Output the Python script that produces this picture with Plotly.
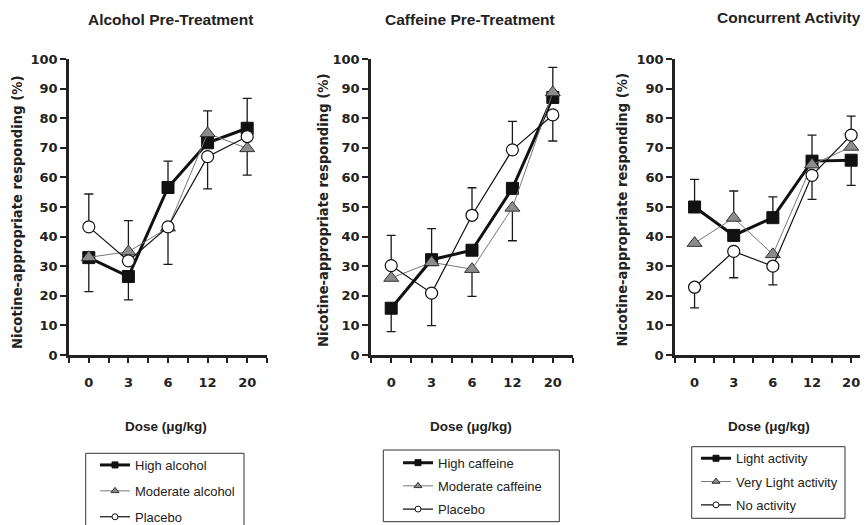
import plotly.graph_objects as go

W, H = 868, 525          # browser window
OFF = 8                  # default body margin of the page
FW, FH = W - OFF, H - OFF  # figure size so that it fits in the window

# ---------------- data ----------------
dose_labels = ["0", "3", "6", "12", "20"]

alc_names = ["High alcohol", "Moderate alcohol", "Placebo"]
alc_high = [32.9, 26.5, 56.6, 71.7, 76.6]
alc_mod = [33.0, 34.9, 43.0, 74.9, 69.8]
alc_plac = [43.3, 31.8, 43.3, 67.0, 73.8]
alc_high_up = [0, 0, 8.9, 0, 10.1]
alc_high_dn = [11.5, 7.9, 0, 0, 0]
alc_mod_up = [0, 10.5, 0, 7.6, 0]
alc_mod_dn = [0, 0, 0, 0, 9.0]
alc_plac_up = [11.1, 0, 0, 0, 0]
alc_plac_dn = [0, 0, 12.7, 10.9, 0]

caf_names = ["High caffeine", "Moderate caffeine", "Placebo"]
caf_high = [15.8, 32.2, 35.4, 56.3, 87.0]
caf_mod = [26.0, 31.3, 29.0, 49.7, 88.7]
caf_plac = [30.2, 20.9, 47.2, 69.3, 81.1]
caf_high_up = [0, 10.5, 0, 0, 0]
caf_high_dn = [7.9, 0, 0, 0, 0]
caf_mod_up = [0, 0, 0, 0, 8.5]
caf_mod_dn = [0, 0, 9.2, 11.1, 0]
caf_plac_up = [10.2, 0, 9.3, 9.6, 0]
caf_plac_dn = [0, 11.0, 0, 0, 8.8]

act_names = ["Light activity", "Very Light activity", "No activity"]
act_light = [50.0, 40.4, 46.4, 65.5, 65.8]
act_vlight = [37.8, 46.3, 34.0, 64.3, 70.3]
act_none = [22.9, 35.0, 30.0, 60.7, 74.3]
act_light_up = [9.3, 0, 7.0, 8.8, 0]
act_light_dn = [0, 0, 0, 0, 8.5]
act_vlight_up = [0, 9.1, 0, 0, 0]
act_vlight_dn = [0, 0, 0, 0, 0]
act_none_up = [0, 0, 0, 0, 6.4]
act_none_dn = [7.0, 8.9, 6.3, 8.1, 0]

panel_titles = ["Alcohol Pre-Treatment", "Caffeine Pre-Treatment", "Concurrent Activity"]
y_title = "Nicotine-appropriate responding (%)"
x_title = "Dose (\u03bcg/kg)"

# ---------------- helpers (window pixel -> paper fraction) ----------------
def fx(px):
    return (px - OFF) / FW

def fy(py):
    return 1 - (py - OFF) / FH

xpos = list(range(1, len(dose_labels) + 1))

STYLES = [
    dict(line=dict(color="#111111", width=3),
         marker=dict(symbol="square", size=12, color="#111111",
                     line=dict(color="#111111", width=1))),
    dict(line=dict(color="#777777", width=1),
         marker=dict(symbol="triangle-up", size=13, color="#8c8c8c",
                     line=dict(color="#333333", width=1))),
    dict(line=dict(color="#111111", width=1.2),
         marker=dict(symbol="circle", size=12, color="white",
                     line=dict(color="#111111", width=1.2))),
]
LEG_MARKER = [6, 7, 6]

fig = go.Figure()

panels = [
    (alc_names, [alc_high, alc_mod, alc_plac],
     [alc_high_up, alc_mod_up, alc_plac_up], [alc_high_dn, alc_mod_dn, alc_plac_dn]),
    (caf_names, [caf_high, caf_mod, caf_plac],
     [caf_high_up, caf_mod_up, caf_plac_up], [caf_high_dn, caf_mod_dn, caf_plac_dn]),
    (act_names, [act_light, act_vlight, act_none],
     [act_light_up, act_vlight_up, act_none_up], [act_light_dn, act_vlight_dn, act_none_dn]),
]

for p, (names, vals, ups, dns) in enumerate(panels):
    xa = "x" if p == 0 else f"x{p+1}"
    ya = "y" if p == 0 else f"y{p+1}"
    leg = "legend" if p == 0 else f"legend{p+1}"
    for i in range(3):
        up = [u if (u or d) else None for u, d in zip(ups[i], dns[i])]
        dn = [d if (u or d) else None for u, d in zip(ups[i], dns[i])]
        st = STYLES[i]
        fig.add_trace(go.Scatter(
            x=xpos, y=vals[i], xaxis=xa, yaxis=ya, mode="lines+markers",
            line=st["line"], marker=st["marker"], showlegend=False,
            cliponaxis=False,
            error_y=dict(type="data", symmetric=False, array=up, arrayminus=dn,
                         color="#1a1a1a", thickness=1.3, width=4.5),
        ))
    for i in range(3):
        st = STYLES[i]
        m = dict(st["marker"])
        m["size"] = LEG_MARKER[i]
        m["line"] = dict(color=st["marker"]["line"]["color"], width=1)
        fig.add_trace(go.Scatter(
            x=[None], y=[None], xaxis=xa, yaxis=ya, mode="lines+markers",
            name=names[i], line=st["line"], marker=m, showlegend=True,
            legend=leg, legendgroup=f"{p}-{i}",
        ))

x_domains = [[fx(69), fx(267)], [fx(371), fx(573)], [fx(675), 1.0]]
x_ranges = [[0.5, 5.5], [0.5, 5.5], [0.5, 5.43]]
y_domain = [fy(355), fy(59)]

tick_font = dict(family="DejaVu Sans, Liberation Sans, Arial", size=13, color="#222222", weight="bold")

layout = dict(
    width=FW, height=FH,
    margin=dict(l=0, r=0, t=0, b=0, autoexpand=False),
    paper_bgcolor="white", plot_bgcolor="white",
    showlegend=True,
)
for p in range(3):
    xk = "xaxis" if p == 0 else f"xaxis{p+1}"
    yk = "yaxis" if p == 0 else f"yaxis{p+1}"
    ya = "y" if p == 0 else f"y{p+1}"
    xa = "x" if p == 0 else f"x{p+1}"
    layout[xk] = dict(
        domain=x_domains[p], anchor=ya, range=x_ranges[p], automargin=False,
        tickmode="array", tickvals=xpos, ticktext=dose_labels,
        ticks="outside", ticklen=5, tickwidth=2, tickcolor="#222222",
        showline=True, linewidth=2.5, linecolor="#222222",
        showgrid=False, zeroline=False, tickfont=tick_font,
        ticklabelstandoff=9,
        minor=dict(tickmode="array", tickvals=[v - 0.5 for v in xpos] + [xpos[-1] + 0.5],
                   ticks="outside", ticklen=5, tickwidth=2, tickcolor="#222222",
                   showgrid=False),
    )
    layout[yk] = dict(
        domain=y_domain, anchor=xa, range=[0, 100], dtick=10, tick0=0, automargin=False,
        ticks="outside", ticklen=6, tickwidth=2, tickcolor="#222222",
        showline=True, linewidth=2.5, linecolor="#222222",
        showgrid=False, zeroline=False, tickfont=tick_font,
    )

leg_common = dict(xanchor="left", yanchor="top", bgcolor="rgba(0,0,0,0)",
                  borderwidth=0, traceorder="grouped", itemwidth=30,
                  font=dict(family="Liberation Sans, Arial", size=13, color="#222222"))
layout["legend"] = dict(leg_common, x=fx(95), y=fy(450), tracegroupgap=6)
layout["legend2"] = dict(leg_common, x=fx(398), y=fy(447.7), tracegroupgap=3.3)
layout["legend3"] = dict(leg_common, x=fx(696), y=fy(443.3), tracegroupgap=3.4)

box_px = [(85.7, 453.3, 244, 530), (383.3, 450, 559.3, 521.7), (691.7, 446.7, 845, 518.3)]
layout["shapes"] = [
    dict(type="rect", xref="paper", yref="paper", x0=fx(a), x1=fx(c), y0=fy(d), y1=fy(b),
         line=dict(color="#333333", width=1), fillcolor="rgba(0,0,0,0)")
    for a, b, c, d in box_px
]

title_font = dict(family="Liberation Sans, Arial", size=15.5, color="#222222", weight="bold")
ytitle_font = dict(family="DejaVu Sans, Liberation Sans, Arial", size=13.2, color="#222222", weight="bold")
xtitle_font = dict(family="Liberation Sans, Arial", size=13.5, color="#222222", weight="bold")

title_pos = [(170, 19), (470, 20), (789, 18)]
ytitle_pos = [(17, 213), (323.5, 210.5), (622, 210.5)]
xtitle_pos = [(166, 426), (471, 426), (769, 426)]

ann = []
for p in range(3):
    ann.append(dict(text=panel_titles[p], x=fx(title_pos[p][0]), y=fy(title_pos[p][1]),
                    xref="paper", yref="paper", xanchor="center", yanchor="middle",
                    showarrow=False, font=title_font))
    ann.append(dict(text=y_title, x=fx(ytitle_pos[p][0]), y=fy(ytitle_pos[p][1]),
                    xref="paper", yref="paper", xanchor="center", yanchor="middle",
                    textangle=-90, showarrow=False, font=ytitle_font))
    ann.append(dict(text=x_title, x=fx(xtitle_pos[p][0]), y=fy(xtitle_pos[p][1]),
                    xref="paper", yref="paper", xanchor="center", yanchor="middle",
                    showarrow=False, font=xtitle_font))
layout["annotations"] = ann

fig.update_layout(**layout)
fig.write_html("out.html")
